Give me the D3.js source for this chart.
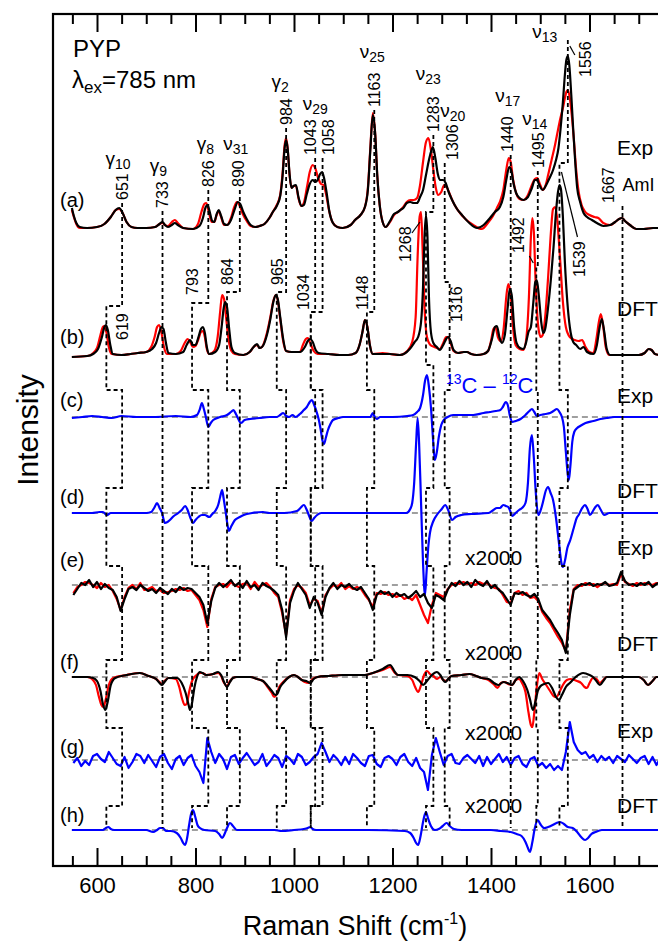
<!DOCTYPE html>
<html>
<head>
<meta charset="utf-8">
<style>
body { margin: 0; background: #fff; }
svg text { font-family: "Liberation Sans", Arial, Helvetica, sans-serif; fill: #000; }
.trace { fill: none; stroke-width: 2.2px; stroke-linejoin: round; }
.zero { stroke: #808080; stroke-width: 1.3px; stroke-dasharray: 6,4; }
.conn { fill: none; stroke: #000; stroke-width: 1.8px; stroke-dasharray: 4,3; }
.axis line { stroke: #000; stroke-width: 2px; }
.axis path { display: none; }
</style>
</head>
<body>
<script src="https://cdn.jsdelivr.net/npm/d3@7"></script>
<script>
var width = 658, height = 947;

// ---- data: Raman spectra, [wavenumber, intensity (a.u.)] ----
var expRed = [[549,20],[553,13],[558,6],[565,2],[580,2],[600,3],[615,6],[628,13],[638,20],[645,21],[652,17],[660,8],[670,3],[682,2],[700,2],[718,3],[727,6],[733,7],[738,5],[744,4],[752,8],[758,10],[764,7],[775,2],[795,1],[805,6],[812,18],[818,26],[822,27],[827,18],[833,8],[838,8],[843,15],[847,19],[852,13],[858,5],[864,5],[872,12],[878,22],[884,28],[889,25],[896,16],[904,9],[912,4],[921,3],[930,4],[940,6],[950,12],[957,18],[965,25],[972,35],[977,58],[981,85],[984,92],[987,82],[991,55],[995,42],[999,44],[1004,44],[1009,32],[1015,24],[1020,27],[1026,42],[1032,58],[1038,65],[1043,62],[1049,52],[1055,46],[1060,45],[1065,36],[1071,20],[1078,8],[1088,3],[1099,2],[1115,5],[1124,10],[1135,15],[1144,23],[1150,42],[1155,82],[1160,117],[1165,95],[1169,55],[1174,25],[1180,8],[1186,3],[1195,8],[1203,15],[1211,18],[1216,20],[1222,23],[1229,28],[1236,30],[1243,30],[1250,32],[1256,45],[1262,68],[1268,88],[1273,92],[1278,80],[1283,60],[1288,42],[1293,35],[1299,38],[1305,45],[1311,42],[1317,35],[1325,26],[1334,19],[1348,11],[1364,5],[1381,1],[1395,8],[1404,14],[1412,22],[1418,28],[1425,40],[1431,60],[1436,72],[1440,68],[1445,50],[1451,37],[1458,31],[1466,30],[1475,35],[1483,45],[1489,51],[1494,52],[1500,45],[1505,40],[1511,45],[1516,55],[1523,70],[1530,85],[1536,100],[1541,112],[1546,122],[1550,132],[1553,138],[1556,140],[1560,132],[1564,115],[1568,92],[1573,60],[1578,38],[1584,25],[1590,19],[1600,15],[1610,13],[1618,12],[1628,7],[1642,5],[1652,8],[1660,11],[1666,12],[1672,9],[1682,5],[1695,1],[1710,1],[1729,2],[1745,2],[1760,2]];
var expBlack = [[549,22],[553,14],[558,7],[565,3],[580,2],[600,3],[615,6],[628,13],[638,20],[645,22],[652,17],[660,8],[670,3],[682,2],[700,2],[718,3],[727,6],[733,8],[738,5],[744,3],[752,5],[758,7],[764,5],[775,2],[795,1],[808,4],[815,12],[820,22],[824,25],[828,20],[834,9],[838,8],[843,16],[847,20],[852,14],[858,6],[864,5],[872,10],[879,20],[886,28],[891,26],[897,18],[904,11],[912,5],[921,3],[930,4],[940,6],[950,12],[957,18],[965,24],[972,34],[977,55],[981,82],[984,90],[987,82],[991,56],[995,42],[999,44],[1004,45],[1009,33],[1015,24],[1020,25],[1026,36],[1032,46],[1038,50],[1043,48],[1048,50],[1053,56],[1057,58],[1061,52],[1066,38],[1072,18],[1079,7],[1088,3],[1099,2],[1115,5],[1124,10],[1135,15],[1144,23],[1150,40],[1155,80],[1160,115],[1165,95],[1169,55],[1174,25],[1180,8],[1186,3],[1195,9],[1203,16],[1211,18],[1216,20],[1222,22],[1229,27],[1236,28],[1243,27],[1250,27],[1256,33],[1262,40],[1268,55],[1274,70],[1278,78],[1282,83],[1287,72],[1292,56],[1297,50],[1303,50],[1308,47],[1314,38],[1321,30],[1331,21],[1341,15],[1356,7],[1372,2],[1385,5],[1398,12],[1408,18],[1418,23],[1425,33],[1431,50],[1437,63],[1441,60],[1446,46],[1451,37],[1458,32],[1466,30],[1475,33],[1483,42],[1489,50],[1493,50],[1499,44],[1505,40],[1511,44],[1517,50],[1526,60],[1532,70],[1537,82],[1541,100],[1546,128],[1550,155],[1553,170],[1556,174],[1559,165],[1563,135],[1567,100],[1571,68],[1575,42],[1581,28],[1588,17],[1595,13],[1605,10],[1615,7],[1628,4],[1642,5],[1652,8],[1660,11],[1666,12],[1672,9],[1682,5],[1695,1],[1710,1],[1729,2],[1745,2],[1760,2]];
var dftRed = [[549,0],[580,1],[590,3],[600,9],[607,22],[612,30],[615,31],[619,25],[624,10],[630,3],[650,2],[668,3],[683,4],[700,5],[710,10],[717,20],[722,30],[726,32],[731,24],[736,10],[742,3],[760,3],[770,6],[778,14],[784,18],[790,14],[795,10],[800,11],[806,18],[811,25],[815,26],[819,20],[823,8],[828,3],[838,6],[845,20],[850,45],[854,62],[858,58],[862,40],[867,18],[873,6],[880,3],[897,2],[910,5],[918,10],[925,12],[930,9],[935,10],[945,24],[952,40],[958,56],[963,62],[967,57],[972,38],[978,16],[984,6],[995,5],[1012,5],[1018,12],[1024,18],[1028,19],[1033,14],[1040,6],[1048,3],[1070,3],[1093,2],[1110,2],[1125,4],[1133,12],[1139,25],[1144,37],[1149,30],[1154,12],[1160,3],[1180,4],[1195,3],[1215,2],[1230,6],[1240,15],[1247,40],[1251,100],[1255,140],[1258,145],[1261,110],[1265,50],[1270,20],[1277,12],[1285,10],[1296,8],[1303,14],[1309,20],[1313,20],[1318,14],[1324,6],[1333,4],[1345,5],[1351,5],[1360,3],[1371,2],[1385,3],[1394,6],[1400,16],[1405,28],[1409,30],[1414,20],[1420,16],[1426,30],[1431,60],[1435,73],[1440,62],[1445,28],[1450,12],[1458,8],[1466,7],[1472,20],[1477,60],[1481,120],[1484,139],[1487,125],[1491,70],[1496,30],[1501,20],[1505,22],[1510,40],[1516,80],[1521,120],[1526,148],[1530,150],[1534,140],[1540,100],[1546,55],[1552,30],[1560,20],[1570,17],[1578,16],[1585,17],[1592,10],[1600,5],[1608,4],[1614,18],[1619,35],[1623,43],[1628,30],[1633,10],[1640,2],[1660,2],[1700,2],[1712,4],[1720,8],[1726,7],[1733,3],[1745,2],[1760,2]];
var dftBlack = [[549,0],[580,1],[592,3],[602,8],[610,20],[615,30],[618,32],[622,27],[627,12],[632,3],[650,2],[668,3],[683,4],[700,5],[712,8],[720,14],[726,24],[731,30],[735,28],[740,14],[745,4],[760,3],[775,5],[782,12],[789,17],[795,12],[800,12],[806,20],[811,28],[815,30],[819,24],[823,10],[828,3],[840,5],[848,12],[853,30],[857,48],[860,55],[864,50],[868,30],[873,10],[880,4],[897,2],[910,5],[918,10],[925,13],[930,9],[935,10],[945,22],[952,38],[958,55],[963,62],[967,58],[972,40],[978,18],[984,6],[995,5],[1012,5],[1022,10],[1028,16],[1033,18],[1038,15],[1044,7],[1050,4],[1070,3],[1093,2],[1110,2],[1125,4],[1133,12],[1139,25],[1144,37],[1149,30],[1154,12],[1160,3],[1180,3],[1195,3],[1215,2],[1235,8],[1245,15],[1252,20],[1258,35],[1262,70],[1265,120],[1268,142],[1271,120],[1274,60],[1278,25],[1283,14],[1290,10],[1296,7],[1303,12],[1309,18],[1313,20],[1318,16],[1324,7],[1333,4],[1345,5],[1351,5],[1360,3],[1371,2],[1385,3],[1394,6],[1402,18],[1408,30],[1412,31],[1417,20],[1422,14],[1428,22],[1434,50],[1438,68],[1442,62],[1447,30],[1452,14],[1459,9],[1466,8],[1471,14],[1476,25],[1481,30],[1486,55],[1490,75],[1493,77],[1497,62],[1502,35],[1506,24],[1510,28],[1516,50],[1522,80],[1527,110],[1532,145],[1536,165],[1539,172],[1542,168],[1546,140],[1550,95],[1555,55],[1560,30],[1567,15],[1573,12],[1581,8],[1588,10],[1595,5],[1608,3],[1615,12],[1620,28],[1625,38],[1630,25],[1635,8],[1642,2],[1660,2],[1700,2],[1712,4],[1720,8],[1726,7],[1733,3],[1745,2],[1760,2]];

// 13C - 12C difference spectra
var diffExp = [[549,-1],[570,0],[590,1],[610,0],[630,-1],[650,1],[680,0],[715,0],[760,1],[790,0],[803,2],[809,8],[813,14],[817,8],[821,0],[826,-10],[831,-6],[836,-3],[850,0],[864,2],[872,5],[877,7],[882,3],[886,-1],[892,-6],[900,-3],[911,-2],[930,-1],[950,0],[965,0],[972,2],[978,4],[984,1],[990,0],[997,2],[1003,0],[1012,3],[1020,7],[1026,10],[1032,15],[1036,17],[1041,12],[1046,5],[1050,-2],[1054,-12],[1058,-24],[1061,-27],[1065,-20],[1069,-13],[1074,-7],[1079,-3],[1090,-1],[1100,0],[1130,0],[1155,0],[1160,4],[1164,0],[1168,-2],[1175,0],[1200,0],[1230,1],[1242,2],[1250,5],[1256,9],[1262,22],[1266,36],[1270,42],[1274,30],[1278,10],[1282,-20],[1286,-43],[1290,-35],[1294,-20],[1299,-8],[1304,-3],[1312,0],[1323,2],[1345,2],[1364,2],[1385,4],[1398,5],[1410,6],[1419,7],[1424,10],[1430,15],[1434,12],[1438,2],[1443,-5],[1450,-4],[1460,-2],[1470,2],[1478,6],[1483,8],[1488,5],[1493,1],[1500,2],[1510,3],[1520,4],[1527,6],[1534,8],[1539,5],[1544,0],[1548,-10],[1552,-35],[1556,-58],[1558,-63],[1561,-50],[1565,-25],[1569,-15],[1575,-11],[1581,-9],[1592,-6],[1608,-4],[1622,-2],[1635,-1],[1650,0],[1700,0],[1760,0]];
var diffDft = [[549,0],[590,0],[605,1],[612,1],[620,-2],[628,0],[660,0],[700,0],[710,1],[716,5],[722,10],[727,5],[732,0],[735,-6],[738,-10],[743,-9],[748,-7],[756,-3],[765,0],[772,3],[779,7],[784,3],[789,-4],[795,-10],[800,-7],[806,-4],[813,-2],[819,-2],[828,-4],[834,-1],[840,2],[846,8],[850,16],[854,23],[857,15],[861,2],[865,-12],[868,-18],[872,-14],[880,-7],[890,-4],[898,-2],[915,0],[937,1],[950,0],[980,0],[1006,2],[1013,5],[1020,8],[1026,3],[1030,-2],[1036,-8],[1041,-5],[1047,-2],[1055,0],[1100,0],[1200,0],[1228,0],[1236,4],[1240,10],[1244,30],[1248,70],[1251,95],[1254,70],[1258,10],[1262,-50],[1266,-82],[1269,-60],[1273,-32],[1276,-20],[1283,-8],[1290,-2],[1300,4],[1307,8],[1313,3],[1321,-7],[1328,-4],[1340,-2],[1360,-1],[1395,0],[1405,3],[1412,5],[1418,5],[1425,8],[1430,7],[1435,6],[1439,2],[1443,-3],[1450,0],[1457,3],[1463,5],[1470,10],[1475,30],[1479,65],[1483,78],[1487,55],[1491,20],[1496,-2],[1501,3],[1506,12],[1511,22],[1516,26],[1521,20],[1526,13],[1532,-5],[1538,-30],[1543,-50],[1546,-54],[1550,-48],[1555,-35],[1561,-27],[1568,-15],[1574,-5],[1578,-2],[1584,4],[1591,8],[1596,4],[1601,-2],[1607,2],[1612,6],[1617,8],[1622,4],[1630,-2],[1640,0],[1760,0]];

// x2000 traces; the measured ones are sampled every 8 cm-1 from 552
var gridStart = 552, gridStep = 8;
var expX2000Black = [-10,-4,2,0,5,-2,3,-4,1,-3, -5,-12,-26,-14,-4,-2,-5,0,-3,-6, -4,-8,-3,-6,-9,-4,-7,-2,-5,-3, -4,-8,-12,-20,-38,-16,-3,2,-2,1, 5,-1,2,-3,4,-2,0,-5,2,-1, -3,-6,-10,-25,-52,-18,-6,2,-4,-10, -23,-12,-18,-30,-12,-3,2,-4,0,-2, 1,-3,-5,-2,-8,-14,-25,-10,-6,-9, -7,-12,-8,-11,-9,-13,-10,-6,-12,-9, -18,-23,-10,-12,-15,-5,2,-1,4,0, 3,-2,5,1,-1,4,-3,0,-5,-8, -14,-20,-8,-9,-7,-10,-12,-9,-14,-25, -30,-35,-42,-48,-55,-68,-30,-5,-2,1, 0,2,-1,1,0,3,-1,0,2,13, 4,0,1,-1,2,0,3,-2,1,3,0];
var expX2000Red = [-8,-2,0,3,2,0,-3,2,-2,0, -6,-14,-25,-12,-3,0,-4,2,-5,-4, -2,-6,-5,-8,-7,-6,-4,-5,-3,-6, -5,-10,-15,-25,-42,-14,-2,0,1,-2, 3,0,-2,1,2,-4,3,-2,0,2, -2,-8,-12,-28,-50,-15,-4,0,-3,-8, -20,-14,-16,-28,-10,-4,0,-2,2,-4, -1,-4,-2,-4,-10,-15,-22,-8,-9,-7, -10,-9,-12,-10,-14,-12,-15,-10,-20,-30, -38,-20,-8,-10,-12,-4,0,2,1,3, 1,2,0,3,1,2,-1,-3,-4,-10, -17,-18,-8,-6,-10,-8,-13,-12,-16,-27, -33,-38,-45,-52,-58,-66,-25,-4,0,-1, 2,0,1,-2,1,2,0,1,0,11, 3,1,-1,2,0,2,1,0,2,1,-1];
var diffExpX2000 = [-3,2,-6,-1,-5,4,6,1,-2,8, 2,-4,-6,3,-8,-2,6,4,-3,5, -1,-7,3,6,-3,-9,1,4,-5,2, 5,-6,-12,-23,22,8,-3,6,1,-9, 3,5,-4,2,7,1,-5,-2,6,-6, -1,5,2,-7,4,1,-4,6,3,-5, -2,3,6,17,8,-2,5,1,-5,3, -4,6,2,-3,-6,4,5,-4,-7,2, 4,1,-5,3,6,-2,-6,2,-8,-12, -30,5,22,8,-5,4,6,-3,-4,2, 5,1,-3,4,-6,3,-4,1,6,-2, 3,-5,2,4,-4,-7,1,3,-6,-3, -8,-4,-10,-6,-10,8,38,18,10,6, 8,2,5,-2,4,0,3,-3,4,1, -2,5,1,-3,2,4,-4,3,-5,2,0];
var dftX2000Red = [[549,0],[580,0],[590,-2],[598,-8],[604,-20],[609,-28],[613,-30],[618,-22],[624,-8],[633,-1],[660,2],[687,4],[705,1],[720,-2],[727,-5],[732,-7],[737,-4],[745,-1],[760,-2],[767,-10],[773,-22],[778,-28],[782,-27],[787,-15],[793,-4],[800,1],[809,4],[814,4],[822,2],[836,3],[846,4],[852,1],[858,-6],[864,-9],[870,-4],[876,-1],[884,0],[911,0],[925,-2],[937,-4],[945,-9],[955,-16],[960,-20],[965,-17],[970,-10],[978,-5],[990,0],[1000,2],[1008,0],[1016,-3],[1022,-5],[1030,-6],[1038,-2],[1048,0],[1070,1],[1099,2],[1144,2],[1160,4],[1180,7],[1195,10],[1205,4],[1211,2],[1230,1],[1240,-3],[1246,-10],[1252,-15],[1258,-8],[1264,2],[1270,6],[1276,3],[1283,1],[1290,-2],[1297,0],[1303,-3],[1309,-4],[1315,-1],[1320,1],[1340,2],[1356,3],[1370,1],[1381,-1],[1395,-3],[1405,-7],[1413,-11],[1420,-6],[1428,-5],[1435,-7],[1443,-8],[1450,-3],[1457,-2],[1463,-6],[1470,-15],[1476,-35],[1481,-48],[1484,-50],[1488,-35],[1493,-10],[1498,4],[1504,-2],[1512,-8],[1520,-14],[1527,-19],[1533,-20],[1539,-15],[1546,-8],[1554,-3],[1562,-2],[1575,-4],[1583,-6],[1590,-10],[1595,-11],[1600,-6],[1607,-1],[1614,-2],[1621,-6],[1628,-3],[1635,0],[1660,0],[1700,0],[1710,-3],[1719,-8],[1728,-4],[1736,0],[1760,0]];
var dftX2000Black = [[549,0],[580,0],[592,-1],[600,-4],[607,-14],[612,-27],[617,-33],[622,-24],[628,-8],[637,-1],[660,2],[687,4],[705,1],[720,-2],[727,-6],[732,-8],[737,-5],[745,-1],[762,-1],[772,-6],[780,-16],[786,-28],[789,-33],[793,-26],[798,-10],[803,0],[809,5],[814,4],[822,2],[836,3],[846,5],[852,2],[858,-5],[864,-10],[870,-5],[876,-1],[884,0],[911,0],[925,-2],[937,-4],[945,-8],[955,-14],[962,-18],[966,-17],[972,-10],[978,-6],[990,0],[1000,2],[1008,0],[1016,-3],[1025,-4],[1033,-6],[1040,-2],[1048,0],[1070,1],[1099,2],[1144,2],[1160,4],[1180,8],[1195,12],[1205,5],[1211,2],[1230,2],[1245,0],[1255,-4],[1262,-8],[1270,-4],[1280,2],[1290,5],[1297,2],[1303,-3],[1307,-5],[1313,-2],[1320,1],[1340,2],[1356,3],[1370,1],[1381,-1],[1395,-2],[1406,-6],[1415,-8],[1425,-5],[1433,-6],[1443,-8],[1450,-3],[1457,0],[1465,-4],[1473,-12],[1479,-22],[1485,-33],[1490,-25],[1495,-14],[1499,-10],[1508,-7],[1516,-6],[1525,-12],[1532,-20],[1538,-23],[1544,-18],[1552,-10],[1560,-6],[1572,0],[1587,4],[1600,2],[1607,0],[1614,-4],[1621,-8],[1628,-4],[1635,0],[1660,0],[1700,0],[1710,-3],[1719,-8],[1728,-4],[1736,0],[1760,0]];
var diffDftX2000 = [[549,0],[600,0],[612,0],[618,2],[623,3],[628,1],[635,0],[700,0],[714,-2],[722,0],[728,2],[734,2],[740,-1],[750,-1],[762,-3],[770,-8],[775,-13],[779,-15],[783,-8],[787,5],[791,16],[795,20],[799,14],[804,5],[809,2],[818,0],[840,-1],[848,-4],[854,-8],[859,-4],[864,2],[870,7],[876,4],[884,0],[960,0],[975,-1],[1000,0],[1020,1],[1028,2],[1033,3],[1038,1],[1045,0],[1150,0],[1225,-1],[1236,-3],[1243,-8],[1248,-13],[1252,-15],[1257,-6],[1262,8],[1266,16],[1268,18],[1272,12],[1278,4],[1286,0],[1294,1],[1302,4],[1310,7],[1316,4],[1325,1],[1340,0],[1400,0],[1420,-1],[1440,-2],[1452,-4],[1462,-6],[1470,-12],[1475,-18],[1479,-22],[1484,-12],[1489,2],[1495,10],[1500,6],[1508,2],[1516,3],[1525,5],[1533,7],[1540,8],[1548,6],[1556,3],[1566,2],[1575,-2],[1583,-7],[1591,-10],[1597,-8],[1604,-4],[1612,-2],[1625,0],[1760,0]];

// mode assignment: experimental band -> DFT band
var modeExp  = [651, 733, 826, 890, 984, 1043, 1058, 1163, 1283, 1306, 1440, 1495, 1556, 1667];
var modeDft  = [619, 733, 793, 864, 965, 1034, 1034, 1148, 1268, 1316, 1440, 1492, 1539, 1667];
var modeSym  = ["γ", "γ", "γ", "ν", "γ", "ν", "", "ν", "ν", "ν", "ν", "ν", "ν", "AmI"];
var modeSub  = ["10", "9", "8", "31", "2", "29", "", "25", "23", "20", "17", "14", "13", ""];
var dftShown = [true, false, true, true, true, true, false, true, true, true, false, true, true, false];

var xMajor = [600, 800, 1000, 1200, 1400, 1600];
var xMinor = [550, 650, 700, 750, 850, 900, 950, 1050, 1100, 1150, 1250, 1300, 1350, 1450, 1500, 1550, 1650, 1700, 1750];

// ---- layout (pixels) ----
var base = {a: 230, b: 357, c: 417, d: 513, e: 585, f: 677, g: 760, h: 830};
var expLabDx = [0, 0, 0, -2, 0, -5, 6, 0, 0, 8, -3, 0, 17, -14];
var expLabY  = [200, 208, 187, 187, 125, 155, 155, 107, 132, 160, 152, 168, 77, 203];
var symDx    = [-4, -4, -3, -4, -6, 0, 0, -2, -5, 8, -3, -3, -23, 0];
var symY     = [160, 167, 145, 145, 83, 105, 0, 53, 75, 112, 97, 120, 33, 185];
var dftLabDx = [16, 0, 0, 0, 0, -8, 0, -5, -21, 7, 0, -18, 20, 0];
var dftLabY  = [340, 0, 295, 285, 285, 310, 0, 310, 262, 322, 0, 253, 277, 0];
var jogAB    = [306, 0, 303, 292, 292, 312, 312, 312, 212, 282, 0, 265, 163, 0];
var gapY = {bc: 390, cd: 488, de: 566, ef: 660, fg: 728, gh: 806, end: 828};

var svg = d3.select("body").append("svg")
    .attr("width", width)
    .attr("height", height);

var x = d3.scaleLinear().domain([600, 1600]).range([97, 589.5]);
var amp = d3.scaleLinear().domain([0, 100]).range([0, -100]);

function gridPts(vals) {
  return vals.map(function(v, i) { return [gridStart + i * gridStep, v]; });
}

svg.append("clipPath").attr("id", "plotclip")
  .append("rect").attr("x", 54).attr("y", 15).attr("width", 700).attr("height", 850);

var plot = svg.append("g").attr("clip-path", "url(#plotclip)");

// zero lines of the difference traces
["c", "d", "e", "f", "g", "h"].forEach(function(k) {
  plot.append("line").attr("class", "zero")
    .attr("x1", x(549)).attr("x2", 700)
    .attr("y1", base[k]).attr("y2", base[k]);
});

// traces
function drawTrace(data, key, color, smooth) {
  var line = d3.line()
    .x(function(d) { return x(d[0]); })
    .y(function(d) { return base[key] + amp(d[1]); })
    .curve(smooth ? d3.curveMonotoneX : d3.curveLinear);
  plot.append("path").attr("class", "trace").attr("stroke", color).attr("d", line(data));
}
drawTrace(expRed, "a", "#ff0000", true);
drawTrace(expBlack, "a", "#000", true);
drawTrace(dftRed, "b", "#ff0000", true);
drawTrace(dftBlack, "b", "#000", true);
drawTrace(diffExp, "c", "#0000ff", true);
drawTrace(diffDft, "d", "#0000ff", true);
drawTrace(gridPts(expX2000Red), "e", "#ff0000", false);
drawTrace(gridPts(expX2000Black), "e", "#000", false);
drawTrace(dftX2000Red, "f", "#ff0000", true);
drawTrace(dftX2000Black, "f", "#000", true);
drawTrace(gridPts(diffExpX2000), "g", "#0000ff", false);
drawTrace(diffDftX2000, "h", "#0000ff", true);

// dashed connectors between experimental and calculated bands
modeExp.forEach(function(fe, i) {
  var xe = x(fe), xd = x(modeDft[i]);
  var top = (fe === 1556) ? 40 : expLabY[i] + 3;
  var ab = jogAB[i] || 300;
  var bc = (fe === 1283) ? 365 : gapY.bc;
  var pts = [[xe, top], [xe, ab], [xd, ab], [xd, bc], [xe, bc], [xe, gapY.cd], [xd, gapY.cd],
             [xd, gapY.de], [xe, gapY.de], [xe, gapY.ef], [xd, gapY.ef], [xd, gapY.fg],
             [xe, gapY.fg], [xe, gapY.gh], [xd, gapY.gh], [xd, gapY.end]];
  plot.append("path").attr("class", "conn").attr("d", d3.line()(pts));
});

// band labels
function vLabel(cx, bottom, txt) {
  svg.append("text")
    .attr("transform", "translate(" + cx + "," + bottom + ") rotate(-90)")
    .attr("dy", "0.36em")
    .style("font-size", "16px")
    .text(txt);
}
modeExp.forEach(function(fe, i) {
  vLabel(x(fe) + expLabDx[i], expLabY[i], fe);
  if (modeSym[i] === "AmI") {
    svg.append("text").attr("x", x(fe)).attr("y", symY[i] + 6)
      .style("font-size", "18px").text("AmI");
  } else if (modeSym[i]) {
    var t = svg.append("text").attr("x", x(fe) + symDx[i]).attr("y", symY[i] + 5)
      .attr("text-anchor", "middle").style("font-size", "19px");
    t.append("tspan").text(modeSym[i]);
    t.append("tspan").attr("dy", 4).style("font-size", "14px").text(modeSub[i]);
  }
  if (dftShown[i]) vLabel(x(modeDft[i]) + dftLabDx[i], dftLabY[i], modeDft[i]);
});

// leaders
var leaders = [[1268, -14, 233, -6, 222], [1492, -7, 256, -3, 263], [1539, 2, 172, 18, 237], [1556, 2, 46, 7, 55]];
leaders.forEach(function(l) {
  svg.append("line").attr("x1", x(l[0]) + l[1]).attr("y1", l[2])
    .attr("x2", x(l[0]) + l[3]).attr("y2", l[4])
    .attr("stroke", "#000").attr("stroke-width", 1.2);
});

// panel letters and side labels
var letters = [["a", 200], ["b", 337], ["c", 400], ["d", 497], ["e", 560], ["f", 662], ["g", 747], ["h", 815]];
letters.forEach(function(l) {
  svg.append("text").attr("x", 60).attr("y", l[1] + 7).style("font-size", "20px").text("(" + l[0] + ")");
});
var sides = [["Exp", 155], ["DFT", 316], ["Exp", 403], ["DFT", 498], ["Exp", 555], ["DFT", 651], ["Exp", 738], ["DFT", 813]];
sides.forEach(function(s) {
  svg.append("text").attr("x", 617).attr("y", s[1]).style("font-size", "21px").text(s[0]);
});
[565, 660, 740, 813].forEach(function(y) {
  svg.append("text").attr("x", 465).attr("y", y).style("font-size", "21px").text("x2000");
});

var iso = svg.append("text").attr("x", 446).attr("y", 393).style("font-size", "22px").style("fill", "#0000ff");
iso.append("tspan").attr("dy", -9).style("font-size", "14px").style("fill", "#0000ff").text("13");
iso.append("tspan").attr("dy", 9).style("fill", "#0000ff").text("C \u2013 ");
iso.append("tspan").attr("dy", -9).style("font-size", "14px").style("fill", "#0000ff").text("12");
iso.append("tspan").attr("dy", 9).style("fill", "#0000ff").text("C");

svg.append("text").attr("x", 73).attr("y", 57).style("font-size", "24px").text("PYP");
var lam = svg.append("text").attr("x", 72).attr("y", 88).style("font-size", "24px");
lam.append("tspan").text("λ");
lam.append("tspan").attr("dy", 5).style("font-size", "17px").text("ex");
lam.append("tspan").attr("dy", -5).text("=785 nm");

// axes (ticks point inward)
var bottomY = 866, topY = 14;
svg.append("g").attr("class", "axis").attr("transform", "translate(0," + bottomY + ")")
  .call(d3.axisBottom(x).tickValues(xMajor).tickSize(-18).tickSizeOuter(0).tickPadding(11).tickFormat(d3.format("d")))
  .selectAll("text").style("font-size", "22px").attr("fill", "#000")
  .style("font-family", "'Liberation Sans', Arial, sans-serif");
svg.append("g").attr("class", "axis").attr("transform", "translate(0," + bottomY + ")")
  .call(d3.axisBottom(x).tickValues(xMinor).tickSize(-10).tickSizeOuter(0).tickFormat(""));
svg.append("g").attr("class", "axis").attr("transform", "translate(0," + topY + ")")
  .call(d3.axisTop(x).tickValues(xMajor).tickSize(-18).tickSizeOuter(0).tickFormat(""));
svg.append("g").attr("class", "axis").attr("transform", "translate(0," + topY + ")")
  .call(d3.axisTop(x).tickValues(xMinor).tickSize(-10).tickSizeOuter(0).tickFormat(""));

svg.append("rect").attr("x", 53).attr("y", topY).attr("width", 700).attr("height", bottomY - topY)
  .attr("fill", "none").attr("stroke", "#000").attr("stroke-width", 2.2);

var xt = svg.append("text").attr("x", 355).attr("y", 935).attr("text-anchor", "middle").style("font-size", "27px");
xt.append("tspan").text("Raman Shift (cm");
xt.append("tspan").attr("dy", -11).style("font-size", "16px").text("-1");
xt.append("tspan").attr("dy", 11).text(")");

svg.append("text").attr("transform", "translate(38,430) rotate(-90)")
  .attr("text-anchor", "middle").style("font-size", "30px").text("Intensity");
</script>
</body>
</html>
